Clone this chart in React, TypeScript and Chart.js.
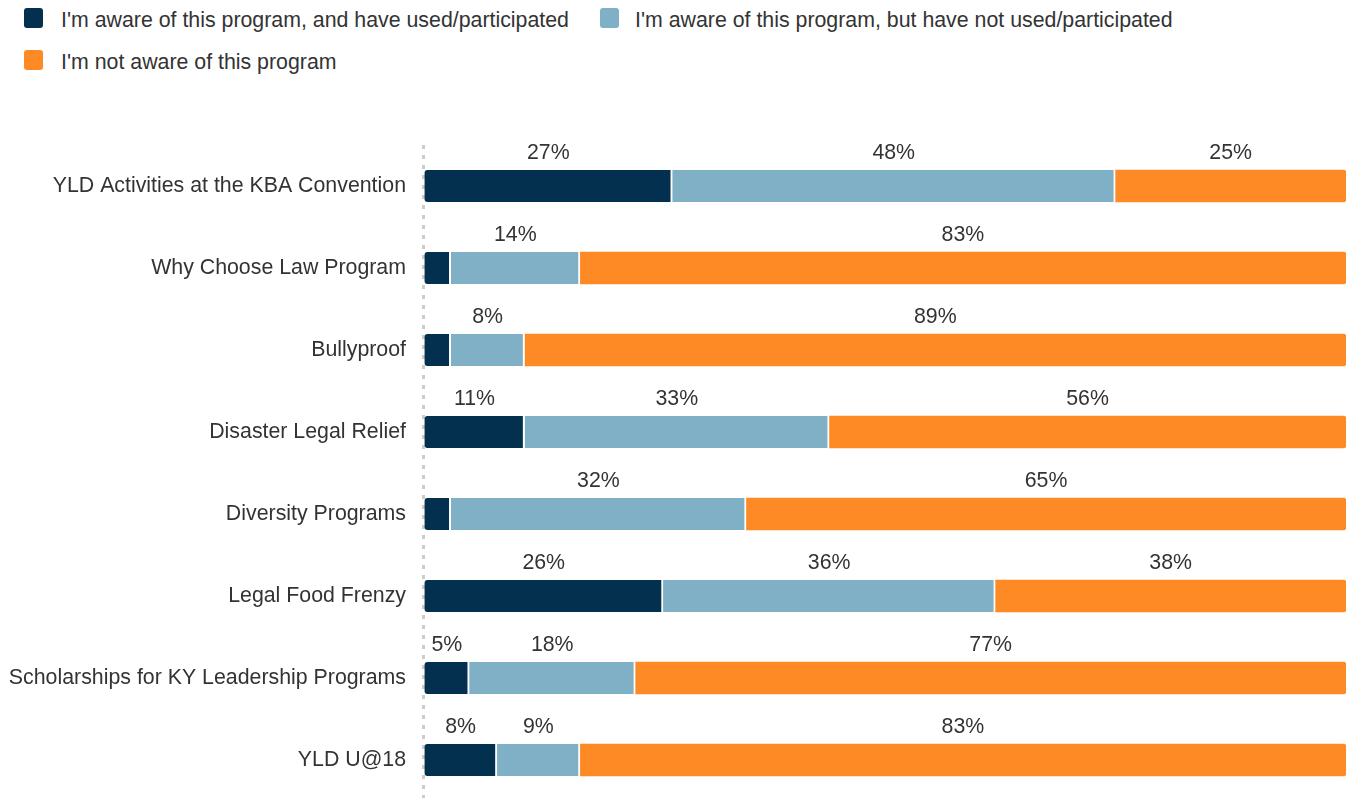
import React, { useEffect, useRef } from "react";
import { Chart, registerables } from "chart.js";

Chart.register(...registerables);

const categories = [
  "YLD Activities at the KBA Convention",
  "Why Choose Law Program",
  "Bullyproof",
  "Disaster Legal Relief",
  "Diversity Programs",
  "Legal Food Frenzy",
  "Scholarships for KY Leadership Programs",
  "YLD U@18",
];

const usedValues = [27, 3, 3, 11, 3, 26, 5, 8];
const awareNotUsedValues = [48, 14, 8, 33, 32, 36, 18, 9];
const notAwareValues = [25, 83, 89, 56, 65, 38, 77, 83];

const seriesNames = [
  "I'm aware of this program, and have used/participated",
  "I'm aware of this program, but have not used/participated",
  "I'm not aware of this program",
];
const seriesColors = ["#04304f", "#7fb0c6", "#fe8a25"];

const FONT = '"Liberation Sans", Arial, sans-serif';
const FONT_SIZE = 21.33;

const segmentLabels = {
  id: "segmentLabels",
  afterDatasetsDraw(chart: any) {
    const ctx = chart.ctx;
    ctx.save();
    ctx.font = `${FONT_SIZE}px ${FONT}`;
    ctx.fillStyle = "#333333";
    ctx.textAlign = "center";
    ctx.textBaseline = "middle";
    chart.data.datasets.forEach((ds: any, di: number) => {
      const meta = chart.getDatasetMeta(di);
      meta.data.forEach((bar: any, i: number) => {
        const v = ds.data[i];
        if (v < 5) return;
        const { x, base, y, height } = bar.getProps(["x", "base", "y", "height"], true);
        ctx.fillText(`${v}%`, (x + base) / 2, y - height / 2 - 17);
      });
    });
    ctx.restore();
  },
};

const legendItems = [
  { name: seriesNames[0], color: seriesColors[0], left: 24, top: 8, gap: 18 },
  { name: seriesNames[1], color: seriesColors[1], left: 600, top: 8, gap: 16 },
  { name: seriesNames[2], color: seriesColors[2], left: 24, top: 50, gap: 18 },
];

export default function App() {
  const canvasRef = useRef<HTMLCanvasElement | null>(null);

  useEffect(() => {
    document.body.style.margin = "0";
    const canvas = canvasRef.current;
    if (!canvas) return;
    const chart = new Chart(canvas, {
      type: "bar",
      data: {
        labels: categories,
        datasets: [
          {
            label: seriesNames[0],
            data: usedValues,
            backgroundColor: seriesColors[0],
            borderColor: "#ffffff",
            borderWidth: { top: 0, right: 2, bottom: 0, left: 0 },
            borderSkipped: false,
            borderRadius: { topLeft: 3, bottomLeft: 3, topRight: 0, bottomRight: 0 },
            barThickness: 32,
          },
          {
            label: seriesNames[1],
            data: awareNotUsedValues,
            backgroundColor: seriesColors[1],
            borderColor: "#ffffff",
            borderWidth: { top: 0, right: 2, bottom: 0, left: 0 },
            borderSkipped: false,
            borderRadius: 0,
            barThickness: 32,
          },
          {
            label: seriesNames[2],
            data: notAwareValues,
            backgroundColor: seriesColors[2],
            borderWidth: 0,
            borderSkipped: false,
            borderRadius: { topLeft: 0, bottomLeft: 0, topRight: 3, bottomRight: 3 },
            barThickness: 32,
          },
        ],
      },
      options: {
        indexAxis: "y",
        responsive: false,
        animation: false,
        devicePixelRatio: 1,
        layout: { padding: { top: 145, right: 6, bottom: 0, left: 0 } },
        plugins: {
          legend: { display: false },
          tooltip: { enabled: false },
        },
        scales: {
          x: {
            stacked: true,
            display: true,
            min: 0,
            max: 100,
            ticks: { display: false },
            border: { display: false, dash: [4, 6] },
            grid: {
              drawTicks: false,
              lineWidth: 3,
              color: (c: any) => (c.tick && c.tick.value === 0 ? "#cccccc" : "rgba(0,0,0,0)"),
            },
          },
          y: {
            stacked: true,
            grid: { display: false, drawTicks: false },
            border: { display: false },
            ticks: {
              color: "#333333",
              padding: 17,
              font: { family: FONT, size: FONT_SIZE },
            },
            afterFit(scale: any) {
              scale.width = 423;
              scale.paddingTop = 0;
              scale.paddingBottom = 0;
            },
          },
        },
      },
      plugins: [segmentLabels],
    } as any);
    return () => chart.destroy();
  }, []);

  return (
    <div
      style={{
        position: "relative",
        width: 1352,
        height: 798,
        overflow: "hidden",
        background: "#ffffff",
        fontFamily: FONT,
      }}
    >
      {legendItems.map((item) => (
        <div
          key={item.name}
          style={{
            position: "absolute",
            left: item.left,
            top: item.top,
            height: 20,
            display: "flex",
            alignItems: "center",
            whiteSpace: "nowrap",
          }}
        >
          <span
            style={{
              display: "inline-block",
              width: 19,
              height: 20,
              borderRadius: 3,
              background: item.color,
              marginRight: item.gap,
            }}
          />
          <span style={{ fontSize: FONT_SIZE, color: "#333333", lineHeight: "20px", position: "relative", top: 2 }}>
            {item.name}
          </span>
        </div>
      ))}
      <canvas
        ref={canvasRef}
        width={1352}
        height={801}
        style={{ position: "absolute", left: 0, top: 0, width: 1352, height: 801 }}
      />
    </div>
  );
}
